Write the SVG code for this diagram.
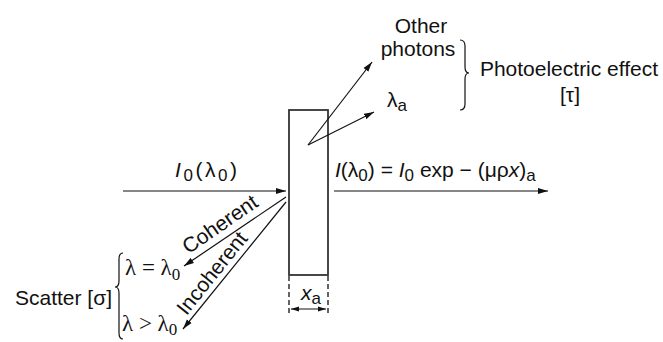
<svg xmlns="http://www.w3.org/2000/svg" width="663" height="342" viewBox="0 0 663 342">
<style>
.t{font-family:"Liberation Sans",Arial,sans-serif;font-size:21px;fill:#111}
.s{font-family:"Liberation Serif","Times New Roman",serif;font-size:23px;fill:#111}
.sub{font-size:17px}
.ln{stroke:#111;stroke-width:1.2;fill:none}
.br{stroke:#111;stroke-width:1.2;fill:none}
.dash{stroke:#222;stroke-width:1.4;stroke-dasharray:5,3;fill:none}
</style>
<defs>
<marker id="ah" markerUnits="userSpaceOnUse" markerWidth="10" markerHeight="7" refX="10" refY="3.5" orient="auto">
<path d="M0,0.5 L10,3.5 L0,6.5 Z" fill="#111"/>
</marker>
<marker id="ahs" markerUnits="userSpaceOnUse" markerWidth="8" markerHeight="6" refX="8" refY="3" orient="auto-start-reverse">
<path d="M0,0.5 L8,3 L0,5.5 Z" fill="#111"/>
</marker>
</defs>
<g id="sample">
<rect x="289" y="110" width="39" height="165" fill="none" stroke="#333" stroke-width="1.8"/>
</g>
<g id="thickness">
<line class="dash" x1="289" y1="276" x2="289" y2="313"/>
<line class="dash" x1="328" y1="276" x2="328" y2="313"/>
<line class="ln" x1="291" y1="309" x2="326" y2="309" marker-start="url(#ahs)" marker-end="url(#ahs)"/>
<text class="t" x="301" y="300"><tspan font-style="italic">x</tspan><tspan class="sub" dy="4">a</tspan></text>
</g>
<g id="connectors">
<line class="ln" x1="123" y1="191" x2="286" y2="191" marker-end="url(#ah)"/>
<line class="ln" x1="334" y1="191" x2="548" y2="191" marker-end="url(#ah)"/>
<line class="ln" x1="308" y1="145" x2="372" y2="62" marker-end="url(#ah)"/>
<line class="ln" x1="308" y1="145" x2="374" y2="112" marker-end="url(#ah)"/>
<line class="ln" x1="286" y1="197" x2="184" y2="266" marker-end="url(#ah)"/>
<line class="ln" x1="286" y1="202" x2="183" y2="329" marker-end="url(#ah)"/>
</g>
<g id="incident">
<text class="t" x="175" y="177" textLength="62" lengthAdjust="spacing"><tspan font-style="italic">I</tspan><tspan class="sub" dy="4">0</tspan><tspan dy="-4">(λ</tspan><tspan class="sub" dy="4">0</tspan><tspan dy="-4">)</tspan></text>
</g>
<g id="transmitted">
<text class="t" x="335" y="177"><tspan font-style="italic">I</tspan>(λ<tspan class="sub" dy="4">0</tspan><tspan dy="-4">) = </tspan><tspan font-style="italic">I</tspan><tspan class="sub" dy="4">0</tspan><tspan dy="-4"> exp − (μρ</tspan><tspan font-style="italic">x</tspan>)<tspan class="sub" dy="4">a</tspan></text>
</g>
<g id="photoelectric">
<text class="t" x="421" y="33" text-anchor="middle">Other</text>
<text class="t" x="418" y="56" text-anchor="middle">photons</text>
<text class="t" x="387" y="107">λ<tspan class="sub" dy="4">a</tspan></text>
<path class="br" d="M460,40 Q465,40 465,46 L465,67 Q465,73 469,73 Q465,73 465,79 L465,104 Q465,110 460,110"/>
<text class="t" x="569" y="76" text-anchor="middle">Photoelectric effect</text>
<text class="t" x="570" y="102" text-anchor="middle">[τ]</text>
</g>
<g id="coherent">
<text class="t" x="224" y="230" text-anchor="middle" transform="rotate(-34.7 224 230)">Coherent</text>
</g>
<g id="incoherent">
<text class="t" x="217.5" y="277.5" text-anchor="middle" transform="rotate(-51.2 217.5 277.5)">Incoherent</text>
</g>
<g id="scatter">
<text class="t" x="15" y="305">Scatter [σ]</text>
<path class="br" d="M123,253 Q119,253 119,259 L119,281 Q119,287 115,287 Q119,287 119,293 L119,333 Q119,339 123,339"/>
<text class="s" x="125" y="275">λ = λ<tspan class="sub" dy="5">0</tspan></text>
<text class="s" x="122" y="331">λ &gt; λ<tspan class="sub" dy="4">0</tspan></text>
</g>
</svg>
